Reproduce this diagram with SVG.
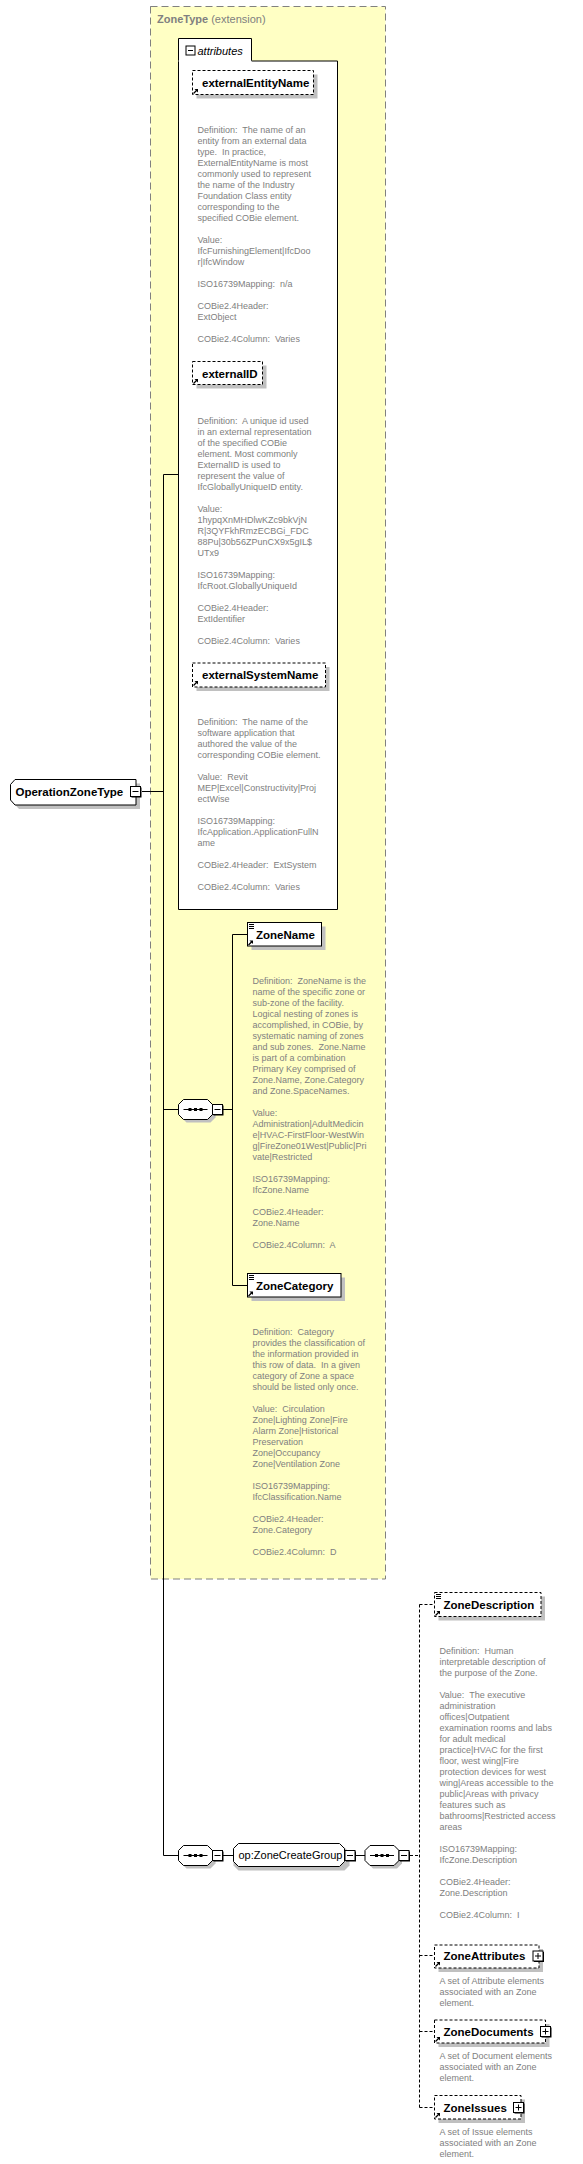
<svg xmlns="http://www.w3.org/2000/svg" width="583" height="2164" viewBox="0 0 583 2164">
<style>
.dsc{font-family:"Liberation Sans",Arial,sans-serif;font-size:9px;fill:#808080;white-space:pre}
.lbl{font-family:"Liberation Sans",Arial,sans-serif;font-size:11.5px;font-weight:bold;fill:#000;white-space:pre}
.grp{font-family:"Liberation Sans",Arial,sans-serif;font-size:11px;fill:#000}
.sh{fill:#C0C0C0}
.box{fill:#fff;stroke:#000;stroke-width:1}
.dbox{fill:#fff;stroke:#000;stroke-width:1;stroke-dasharray:3,2}
.ln{stroke:#000;stroke-width:1;fill:none}
.dln{stroke:#000;stroke-width:1;fill:none;stroke-dasharray:3,2}
.ic{stroke:#000;stroke-width:1;fill:none}
</style>
<defs>
<g id="arrow"><path d="M0.5,5.5 L4,2" stroke="#000" stroke-width="1.2" fill="none"/><path d="M1.5,1 H5 V4.5 Z" fill="#000"/></g>
<g id="lines"><path d="M0,0.5 H5 M0,2.5 H5 M0,4.5 H5" stroke="#000" stroke-width="1" fill="none"/></g>
<g id="minus"><rect x="1.5" y="1.5" width="10" height="10" fill="#000"/><rect x="0.5" y="0.5" width="10" height="10" fill="#fff" stroke="#000"/><path d="M2.5,5.5 H8.5" stroke="#000"/></g>
<g id="plus"><rect x="1.5" y="1.5" width="10" height="10" fill="#000"/><rect x="0.5" y="0.5" width="10" height="10" fill="#fff" stroke="#000"/><path d="M2.5,5.5 H8.5 M5.5,2.5 V8.5" stroke="#000"/></g>
<g id="seq"><path d="M5,4.5 H29 L34,9.5 V15.5 L29,20.5 H5 L0,15.5 V9.5 Z" transform="translate(3,3)" class="sh"/><path d="M5,0.5 H29 L34,5.5 V15.5 L29,20.5 H5 L0,15.5 V5.5 Z" class="box"/><path d="M5,10.5 H29" stroke="#000"/><rect x="10" y="9" width="3" height="3" fill="#000"/><rect x="15.5" y="9" width="3" height="3" fill="#000"/><rect x="21" y="9" width="3" height="3" fill="#000"/></g>
</defs>

<g id="zonetype-extension">
<rect x="150.5" y="6.5" width="235" height="1572.5" fill="#FFFFC4" stroke="#808080" stroke-width="1" stroke-dasharray="7,4"/>
<text x="157" y="23" font-family="'Liberation Sans',Arial,sans-serif" font-size="11px" fill="#808080"><tspan font-weight="bold">ZoneType</tspan> (extension)</text>
</g>

<g id="connectors">
<path class="ln" d="M142,791.5 H163.5 M163.5,474.5 V1855.5 M163.5,474.5 H178.5 M163.5,1109.5 H178.5 M163.5,1855.5 H178.5"/>
<path class="ln" d="M223,1109.5 H232.5 M232.5,934.5 V1285.5 M232.5,934.5 H247.5 M232.5,1285.5 H247.5"/>
<path class="ln" d="M223,1855.5 H233.5 M355.5,1855.5 H365"/>
<path class="dln" d="M410,1855.5 H419.5 M419.5,1604.5 V2107.5 M419.5,1604.5 H434.5 M419.5,1955.5 H434.5 M419.5,2031.5 H434.5 M419.5,2107.5 H434.5"/>
</g>

<g id="OperationZoneType">
<path d="M19,783.5 H140 V809 H19 L14.5,804 V788.5 Z" class="sh"/>
<path d="M15,779.5 H136 V805 H15 L10.5,800 V784.5 Z" class="box"/>
<text class="lbl" x="15.5" y="796">OperationZoneType</text>
<use href="#minus" x="130" y="786"/>
</g>

<g id="attributes">
<path d="M178.5,61 V38.5 H251.5 V61 H337.5 V909.5 H178.5 Z" fill="#fff" stroke="#000"/>
<path d="M178.5,61 H251.5" stroke="#fff"/>
<rect x="186" y="46" width="9" height="9" fill="#fff" stroke="#000"/>
<path d="M188,50.5 H193" stroke="#000"/>
<text x="197.5" y="54.5" font-family="'Liberation Sans',Arial,sans-serif" font-size="11px" font-style="italic" fill="#000">attributes</text>
</g>

<g id="externalEntityName">
<rect x="196.5" y="74.5" width="121" height="24" class="sh"/>
<rect x="192.5" y="70.5" width="121" height="24" class="dbox"/>
<use href="#arrow" x="193" y="88"/>
<text class="lbl" x="202" y="86.5">externalEntityName</text>
<text class="dsc" x="197.5" y="132.5"><tspan x="197.5" dy="0">Definition:  The name of an</tspan><tspan x="197.5" dy="11">entity from an external data</tspan><tspan x="197.5" dy="11">type.  In practice,</tspan><tspan x="197.5" dy="11">ExternalEntityName is most</tspan><tspan x="197.5" dy="11">commonly used to represent</tspan><tspan x="197.5" dy="11">the name of the Industry</tspan><tspan x="197.5" dy="11">Foundation Class entity</tspan><tspan x="197.5" dy="11">corresponding to the</tspan><tspan x="197.5" dy="11">specified COBie element.</tspan><tspan x="197.5" dy="22">Value:</tspan><tspan x="197.5" dy="11">IfcFurnishingElement|IfcDoo</tspan><tspan x="197.5" dy="11">r|IfcWindow</tspan><tspan x="197.5" dy="22">ISO16739Mapping:  n/a</tspan><tspan x="197.5" dy="22">COBie2.4Header:</tspan><tspan x="197.5" dy="11">ExtObject</tspan><tspan x="197.5" dy="22">COBie2.4Column:  Varies</tspan></text>
</g>

<g id="externalID">
<rect x="196.5" y="365.5" width="70" height="23" class="sh"/>
<rect x="192.5" y="361.5" width="70" height="23" class="dbox"/>
<use href="#arrow" x="193" y="378"/>
<text class="lbl" x="202" y="377.5">externalID</text>
<text class="dsc" x="197.5" y="423.5"><tspan x="197.5" dy="0">Definition:  A unique id used</tspan><tspan x="197.5" dy="11">in an external representation</tspan><tspan x="197.5" dy="11">of the specified COBie</tspan><tspan x="197.5" dy="11">element. Most commonly</tspan><tspan x="197.5" dy="11">ExternalID is used to</tspan><tspan x="197.5" dy="11">represent the value of</tspan><tspan x="197.5" dy="11">IfcGloballyUniqueID entity.</tspan><tspan x="197.5" dy="22">Value:</tspan><tspan x="197.5" dy="11">1hypqXnMHDlwKZc9bkVjN</tspan><tspan x="197.5" dy="11">R|3QYFkhRmzECBGi_FDC</tspan><tspan x="197.5" dy="11">88Pu|30b56ZPunCX9x5gIL$</tspan><tspan x="197.5" dy="11">UTx9</tspan><tspan x="197.5" dy="22">ISO16739Mapping:</tspan><tspan x="197.5" dy="11">IfcRoot.GloballyUniqueId</tspan><tspan x="197.5" dy="22">COBie2.4Header:</tspan><tspan x="197.5" dy="11">ExtIdentifier</tspan><tspan x="197.5" dy="22">COBie2.4Column:  Varies</tspan></text>
</g>

<g id="externalSystemName">
<rect x="196.5" y="667" width="133" height="24" class="sh"/>
<rect x="192.5" y="663" width="133" height="24" class="dbox"/>
<use href="#arrow" x="193" y="680"/>
<text class="lbl" x="202" y="679">externalSystemName</text>
<text class="dsc" x="197.5" y="725"><tspan x="197.5" dy="0">Definition:  The name of the</tspan><tspan x="197.5" dy="11">software application that</tspan><tspan x="197.5" dy="11">authored the value of the</tspan><tspan x="197.5" dy="11">corresponding COBie element.</tspan><tspan x="197.5" dy="22">Value:  Revit</tspan><tspan x="197.5" dy="11">MEP|Excel|Constructivity|Proj</tspan><tspan x="197.5" dy="11">ectWise</tspan><tspan x="197.5" dy="22">ISO16739Mapping:</tspan><tspan x="197.5" dy="11">IfcApplication.ApplicationFullN</tspan><tspan x="197.5" dy="11">ame</tspan><tspan x="197.5" dy="22">COBie2.4Header:  ExtSystem</tspan><tspan x="197.5" dy="22">COBie2.4Column:  Varies</tspan></text>
</g>

<g id="sequence1">
<use href="#seq" x="178.5" y="1099"/>
<use href="#minus" x="212" y="1104"/>
</g>

<g id="ZoneName">
<rect x="251.5" y="926.5" width="74" height="23.5" class="sh"/>
<rect x="247.5" y="922.5" width="74" height="23.5" class="box"/>
<use href="#lines" x="249" y="924"/>
<use href="#arrow" x="248" y="939.5"/>
<text class="lbl" x="256" y="938.5">ZoneName</text>
<text class="dsc" x="252.5" y="983.5"><tspan x="252.5" dy="0">Definition:  ZoneName is the</tspan><tspan x="252.5" dy="11">name of the specific zone or</tspan><tspan x="252.5" dy="11">sub-zone of the facility.</tspan><tspan x="252.5" dy="11">Logical nesting of zones is</tspan><tspan x="252.5" dy="11">accomplished, in COBie, by</tspan><tspan x="252.5" dy="11">systematic naming of zones</tspan><tspan x="252.5" dy="11">and sub zones.  Zone.Name</tspan><tspan x="252.5" dy="11">is part of a combination</tspan><tspan x="252.5" dy="11">Primary Key comprised of</tspan><tspan x="252.5" dy="11">Zone.Name, Zone.Category</tspan><tspan x="252.5" dy="11">and Zone.SpaceNames.</tspan><tspan x="252.5" dy="22">Value:</tspan><tspan x="252.5" dy="11">Administration|AdultMedicin</tspan><tspan x="252.5" dy="11">e|HVAC-FirstFloor-WestWin</tspan><tspan x="252.5" dy="11">g|FireZone01West|Public|Pri</tspan><tspan x="252.5" dy="11">vate|Restricted</tspan><tspan x="252.5" dy="22">ISO16739Mapping:</tspan><tspan x="252.5" dy="11">IfcZone.Name</tspan><tspan x="252.5" dy="22">COBie2.4Header:</tspan><tspan x="252.5" dy="11">Zone.Name</tspan><tspan x="252.5" dy="22">COBie2.4Column:  A</tspan></text>
</g>

<g id="ZoneCategory">
<rect x="251.5" y="1277.5" width="93.5" height="23.5" class="sh"/>
<rect x="247.5" y="1273.5" width="93.5" height="23.5" class="box"/>
<use href="#lines" x="249" y="1275"/>
<use href="#arrow" x="248" y="1290.5"/>
<text class="lbl" x="256" y="1289.5">ZoneCategory</text>
<text class="dsc" x="252.5" y="1335"><tspan x="252.5" dy="0">Definition:  Category</tspan><tspan x="252.5" dy="11">provides the classification of</tspan><tspan x="252.5" dy="11">the information provided in</tspan><tspan x="252.5" dy="11">this row of data.  In a given</tspan><tspan x="252.5" dy="11">category of Zone a space</tspan><tspan x="252.5" dy="11">should be listed only once.</tspan><tspan x="252.5" dy="22">Value:  Circulation</tspan><tspan x="252.5" dy="11">Zone|Lighting Zone|Fire</tspan><tspan x="252.5" dy="11">Alarm Zone|Historical</tspan><tspan x="252.5" dy="11">Preservation</tspan><tspan x="252.5" dy="11">Zone|Occupancy</tspan><tspan x="252.5" dy="11">Zone|Ventilation Zone</tspan><tspan x="252.5" dy="22">ISO16739Mapping:</tspan><tspan x="252.5" dy="11">IfcClassification.Name</tspan><tspan x="252.5" dy="22">COBie2.4Header:</tspan><tspan x="252.5" dy="11">Zone.Category</tspan><tspan x="252.5" dy="22">COBie2.4Column:  D</tspan></text>
</g>

<g id="sequence2">
<use href="#seq" x="178.5" y="1845"/>
<use href="#minus" x="212" y="1850"/>
</g>

<g id="ZoneCreateGroup">
<path d="M238.5,1847.5 H344.5 L349.5,1852.5 V1865.5 L344.5,1870.5 H238.5 L233.5,1865.5 V1852.5 Z" class="sh"/>
<path d="M238.5,1843.5 H339.5 L344.5,1848.5 V1861.5 L339.5,1866.5 H238.5 L233.5,1861.5 V1848.5 Z" class="box"/>
<text class="grp" x="238.5" y="1859">op:ZoneCreateGroup</text>
<use href="#minus" x="344.5" y="1850"/>
</g>

<g id="sequence3">
<use href="#seq" x="365" y="1845"/>
<use href="#minus" x="398.5" y="1850"/>
</g>

<g id="ZoneDescription">
<rect x="438.5" y="1596.5" width="106.5" height="24" class="sh"/>
<rect x="434.5" y="1592.5" width="106.5" height="24" class="dbox"/>
<use href="#lines" x="436" y="1594"/>
<use href="#arrow" x="435" y="1610"/>
<text class="lbl" x="443.5" y="1608.5">ZoneDescription</text>
<text class="dsc" x="439.5" y="1654"><tspan x="439.5" dy="0">Definition:  Human</tspan><tspan x="439.5" dy="11">interpretable description of</tspan><tspan x="439.5" dy="11">the purpose of the Zone.</tspan><tspan x="439.5" dy="22">Value:  The executive</tspan><tspan x="439.5" dy="11">administration</tspan><tspan x="439.5" dy="11">offices|Outpatient</tspan><tspan x="439.5" dy="11">examination rooms and labs</tspan><tspan x="439.5" dy="11">for adult medical</tspan><tspan x="439.5" dy="11">practice|HVAC for the first</tspan><tspan x="439.5" dy="11">floor, west wing|Fire</tspan><tspan x="439.5" dy="11">protection devices for west</tspan><tspan x="439.5" dy="11">wing|Areas accessible to the</tspan><tspan x="439.5" dy="11">public|Areas with privacy</tspan><tspan x="439.5" dy="11">features such as</tspan><tspan x="439.5" dy="11">bathrooms|Restricted access</tspan><tspan x="439.5" dy="11">areas</tspan><tspan x="439.5" dy="22">ISO16739Mapping:</tspan><tspan x="439.5" dy="11">IfcZone.Description</tspan><tspan x="439.5" dy="22">COBie2.4Header:</tspan><tspan x="439.5" dy="11">Zone.Description</tspan><tspan x="439.5" dy="22">COBie2.4Column:  I</tspan></text>
</g>

<g id="ZoneAttributes">
<rect x="438.5" y="1949" width="104.5" height="23" class="sh"/>
<rect x="434.5" y="1945" width="104.5" height="23" class="dbox"/>
<use href="#arrow" x="435" y="1961"/>
<text class="lbl" x="443.5" y="1960">ZoneAttributes</text>
<use href="#plus" x="532.5" y="1950.5"/>
<text class="dsc" x="439.5" y="1983.5"><tspan x="439.5" dy="0">A set of Attribute elements</tspan><tspan x="439.5" dy="11">associated with an Zone</tspan><tspan x="439.5" dy="11">element.</tspan></text>
</g>

<g id="ZoneDocuments">
<rect x="438.5" y="2024" width="111" height="23" class="sh"/>
<rect x="434.5" y="2020" width="111" height="23" class="dbox"/>
<use href="#arrow" x="435" y="2036"/>
<text class="lbl" x="443.5" y="2036">ZoneDocuments</text>
<use href="#plus" x="540" y="2026"/>
<text class="dsc" x="439.5" y="2059"><tspan x="439.5" dy="0">A set of Document elements</tspan><tspan x="439.5" dy="11">associated with an Zone</tspan><tspan x="439.5" dy="11">element.</tspan></text>
</g>

<g id="ZoneIssues">
<rect x="438.5" y="2099.5" width="86.5" height="23.5" class="sh"/>
<rect x="434.5" y="2095.5" width="86.5" height="23.5" class="dbox"/>
<use href="#arrow" x="435" y="2112"/>
<text class="lbl" x="443.5" y="2111.5">ZoneIssues</text>
<use href="#plus" x="513" y="2102"/>
<text class="dsc" x="439.5" y="2135"><tspan x="439.5" dy="0">A set of Issue elements</tspan><tspan x="439.5" dy="11">associated with an Zone</tspan><tspan x="439.5" dy="11">element.</tspan></text>
</g>
</svg>
